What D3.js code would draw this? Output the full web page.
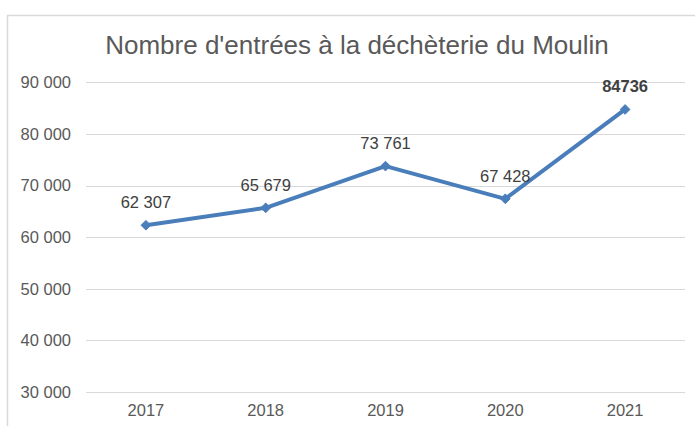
<!DOCTYPE html>
<html><head><meta charset="utf-8">
<script src="https://cdn.jsdelivr.net/npm/d3@7"></script>
<style>html,body{margin:0;padding:0;background:#fff;overflow:hidden}</style>
</head><body>
<svg id="c" width="695" height="426"></svg>
<script>
const categories = ["2017","2018","2019","2020","2021"];
const values = [62307, 65679, 73761, 67428, 84736];
const valueLabels = ["62 307","65 679","73 761","67 428","84736"];
const boldLabel = [false,false,false,false,true];
const yTicks = [30000,40000,50000,60000,70000,80000,90000];
const title = "Nombre d'entrées à la déchèterie du Moulin";

const svg = d3.select("#c");
const font = "'Liberation Sans', Arial, sans-serif";

// chart border
svg.append("rect").attr("x",7.5).attr("y",15.5).attr("width",720).attr("height",440)
  .attr("fill","#fff").attr("stroke","#d9d9d9").attr("stroke-width",1.5);

const x = d3.scaleBand().domain(categories).range([86,685]);
const y = d3.scaleLinear().domain([30000,90000]).range([392,82.3]);

// gridlines
svg.append("g").selectAll("line").data(yTicks).join("line")
  .attr("x1",86).attr("x2",685)
  .attr("y1",d=>Math.round(y(d))+0.5).attr("y2",d=>Math.round(y(d))+0.5)
  .attr("stroke","#d9d9d9").attr("stroke-width",1.2);

const fmt = d => d3.format(",")(d).replace(/,/g," ");

// y axis
const ya = svg.append("g").attr("transform","translate(86,0)")
  .call(d3.axisLeft(y).tickValues(yTicks).tickFormat(fmt).tickSize(0).tickPadding(15));
ya.select(".domain").remove();
ya.selectAll("text").attr("font-family",font).attr("font-size",16.5).attr("fill","#595959");

// x axis
const xa = svg.append("g").attr("transform","translate(0,392)")
  .call(d3.axisBottom(x).tickSize(0).tickPadding(12));
xa.select(".domain").remove();
xa.selectAll("text").attr("font-family",font).attr("font-size",16.5).attr("fill","#595959");

// title
svg.append("text").attr("x",357).attr("y",54).attr("text-anchor","middle")
  .attr("font-family",font).attr("font-size",26).attr("fill","#595959").text(title);

const pts = categories.map((c,i)=>({c, v: values[i], l: valueLabels[i], b: boldLabel[i]}));
const cx = d => x(d.c) + x.bandwidth()/2;

svg.append("path").datum(pts)
  .attr("d", d3.line().x(cx).y(d=>y(d.v)))
  .attr("fill","none").attr("stroke","#4a7ebb").attr("stroke-width",4).attr("stroke-linejoin","round");

svg.append("g").selectAll("path").data(pts).join("path")
  .attr("transform", d=>`translate(${cx(d)},${y(d.v)})`)
  .attr("d", d3.symbol().type(d3.symbolDiamond2).size(60))
  .attr("fill","#4a7ebb").attr("stroke","#4a7ebb").attr("stroke-width",1);

svg.append("g").selectAll("text").data(pts).join("text")
  .attr("x", cx).attr("y", d=>y(d.v)-17).attr("text-anchor","middle")
  .attr("font-family",font).attr("font-size",16.5)
  .attr("font-weight", d=>d.b?"bold":"normal")
  .attr("fill","#404040").text(d=>d.l);
</script>
</body></html>
